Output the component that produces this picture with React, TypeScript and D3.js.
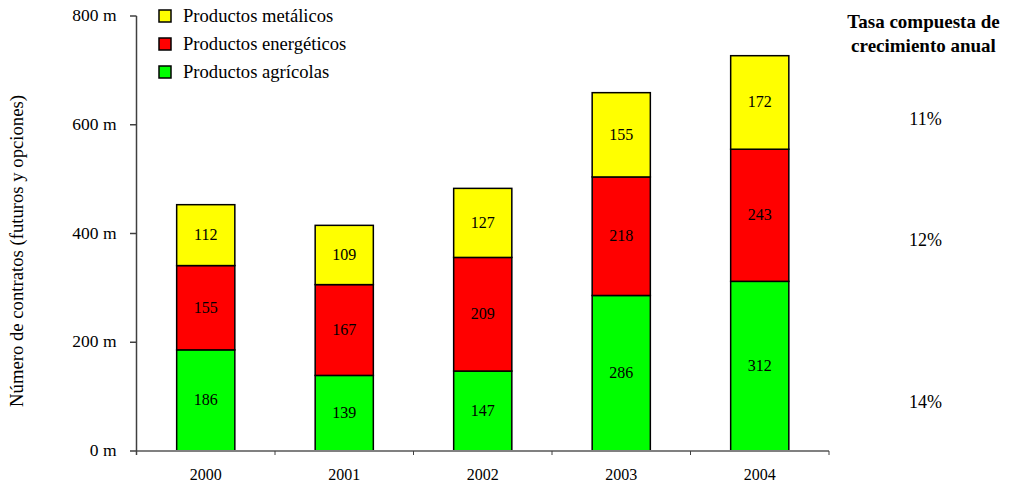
import React from "react";
import * as d3 from "d3";

const years = ["2000", "2001", "2002", "2003", "2004"];
const agricolas = [186, 139, 147, 286, 312];
const energeticos = [155, 167, 209, 218, 243];
const metalicos = [112, 109, 127, 155, 172];
const seriesNames = ["Productos agrícolas", "Productos energéticos", "Productos metálicos"];
const seriesColors = ["#00FF00", "#FF0000", "#FFFF00"];
const yTicks = [0, 200, 400, 600, 800];
const cagrLabels = ["11%", "12%", "14%"];
const cagrY = [119, 240, 402];

const W = 1014;
const H = 487;
const FONT = "'Liberation Serif', 'Times New Roman', serif";

export default function App() {
  const x = d3.scaleBand<string>().domain(years).range([136.5, 829]).padding(0);
  const y = d3.scaleLinear().domain([0, 800]).range([451, 16]);
  const barW = x.bandwidth() * 0.42;

  const table = years.map((yr, i) => ({
    year: yr,
    agricolas: agricolas[i],
    energeticos: energeticos[i],
    metalicos: metalicos[i],
  }));
  const keys = ["agricolas", "energeticos", "metalicos"];
  const stacked = d3.stack<any>().keys(keys)(table);

  const legendOrder = [2, 1, 0];
  const boundaries = years.map((yr) => (x(yr) as number) + x.bandwidth());

  return (
    <svg
      width={W}
      height={H}
      style={{ position: "absolute", left: 0, top: 0, background: "#fff" }}
      fontFamily={FONT}
    >
      <rect x={0} y={0} width={W} height={H} fill="#fff" />
      {/* bars */}
      {stacked.map((layer, si) => (
        <g key={si}>
          {layer.map((d, i) => {
            const cx = (x(years[i]) as number) + x.bandwidth() / 2;
            const y0 = y(d[0]);
            const y1 = y(d[1]);
            return (
              <g key={i}>
                <rect
                  x={cx - barW / 2}
                  y={y1}
                  width={barW}
                  height={y0 - y1}
                  fill={seriesColors[si]}
                  stroke="#000"
                  strokeWidth={1.5}
                />
                <text
                  x={cx}
                  y={(y0 + y1) / 2 + 5}
                  textAnchor="middle"
                  fontSize={16}
                  fill="#000"
                >
                  {d[1] - d[0]}
                </text>
              </g>
            );
          })}
        </g>
      ))}
      {/* x axis */}
      <line x1={136.5} x2={829} y1={451} y2={451} stroke="#808080" strokeWidth={2} />
      {boundaries.map((bx, i) => (
        <line key={i} x1={bx} x2={bx} y1={451} y2={455} stroke="#404040" strokeWidth={1} />
      ))}
      {years.map((yr) => (
        <text
          key={yr}
          x={(x(yr) as number) + x.bandwidth() / 2}
          y={480}
          textAnchor="middle"
          fontSize={16}
          fill="#000"
        >
          {yr}
        </text>
      ))}
      {/* y axis */}
      <line x1={136.5} x2={136.5} y1={y(800)} y2={455} stroke="#404040" strokeWidth={1.5} />
      {yTicks.map((t) => (
        <g key={t}>
          <line x1={130} x2={136.5} y1={y(t)} y2={y(t)} stroke="#404040" strokeWidth={1.5} />
          <text x={116.5} y={y(t) + 5} textAnchor="end" fontSize={17.5} fill="#000">
            {`${t} m`}
          </text>
        </g>
      ))}
      <text
        transform={`translate(23, 251) rotate(-90)`}
        textAnchor="middle"
        fontSize={18.7}
        fill="#000"
      >
        Número de contratos (futuros y opciones)
      </text>
      {/* legend */}
      {legendOrder.map((si, k) => (
        <g key={si} transform={`translate(159, ${16 + k * 28})`}>
          <rect x={0} y={-6} width={12} height={12} fill={seriesColors[si]} stroke="#000" strokeWidth={1.5} />
          <text x={24} y={6} fontSize={18.6} fill="#000">
            {seriesNames[si]}
          </text>
        </g>
      ))}
      {/* right annotation */}
      <text x={923.5} y={28} textAnchor="middle" fontSize={19} fontWeight="bold" fill="#000">
        Tasa compuesta de
      </text>
      <text x={923.5} y={52} textAnchor="middle" fontSize={19} fontWeight="bold" fill="#000">
        crecimiento anual
      </text>
      {cagrLabels.map((l, i) => (
        <text key={l} x={925.5} y={cagrY[i] + 6} textAnchor="middle" fontSize={18} fill="#000">
          {l}
        </text>
      ))}
    </svg>
  );
}
